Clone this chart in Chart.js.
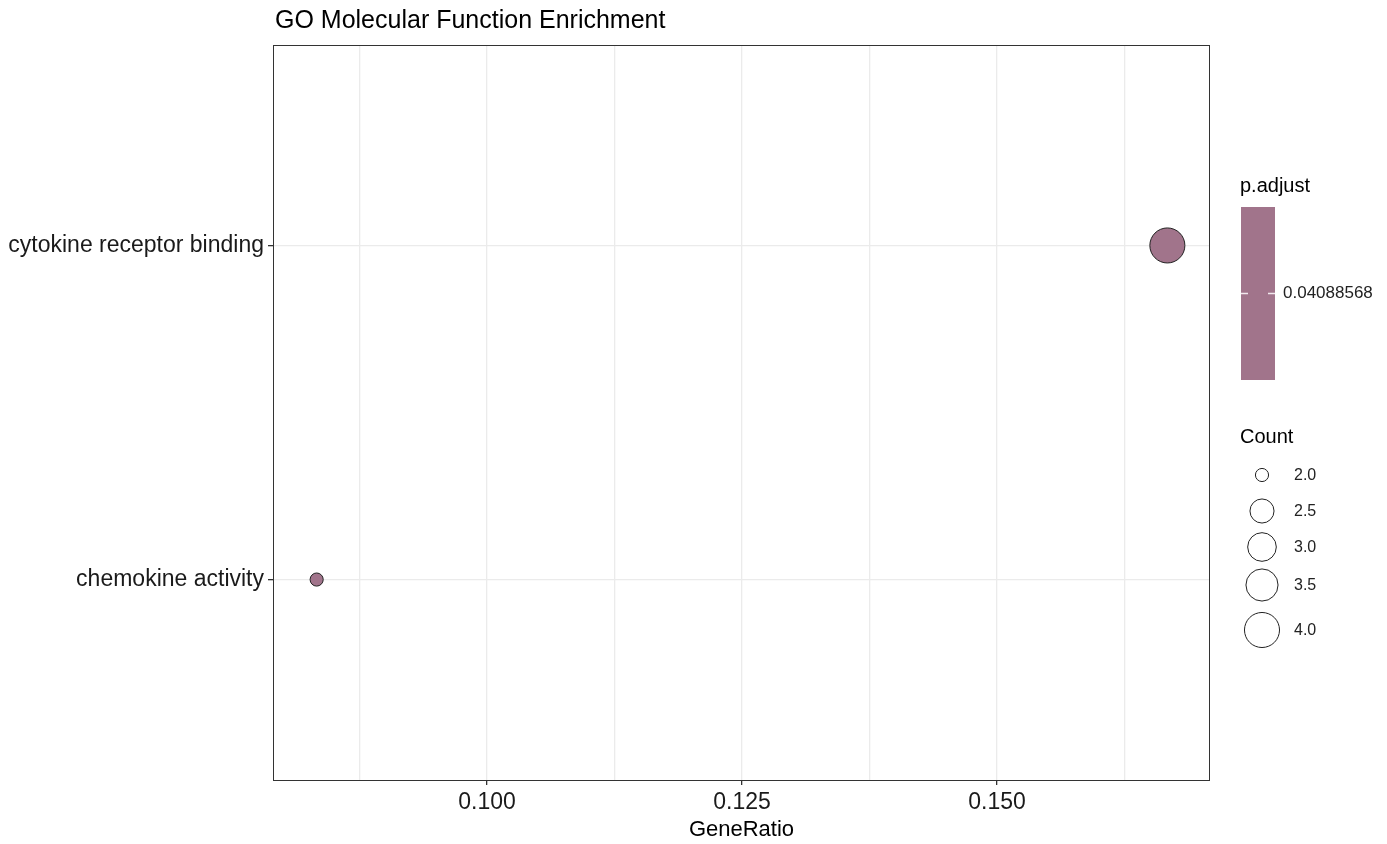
<!DOCTYPE html>
<html>
<head>
<meta charset="utf-8">
<script src="https://cdn.jsdelivr.net/npm/chart.js@4/dist/chart.umd.min.js"></script>
<style>
  html, body { margin: 0; padding: 0; background: #fff; }
  #wrap { width: 1387px; height: 844px; }
</style>
</head>
<body>
<div id="wrap"><canvas id="dotplot"></canvas></div>
<script>
// data
const categories = ['chemokine activity', 'cytokine receptor binding'];
const geneRatio = [0.0833, 0.1667];
const counts = [2, 4];
const pAdjust = [0.04088568, 0.04088568];
const xTicks = [0.100, 0.125, 0.150];
const xMinorTicks = [0.0875, 0.1125, 0.1375, 0.1625];
const countBreaks = [2.0, 2.5, 3.0, 3.5, 4.0];
const pAdjustBreaks = [0.04088568];

const dotColor = '#A1748B';
const FONT = '"Liberation Sans", Arial, sans-serif';

// ggplot-like area scale for point size
function radiusFor(c) {
  const lo = Math.min(...countBreaks), hi = Math.max(...countBreaks);
  return 2.19 * (3 + 5 * Math.sqrt((c - lo) / (hi - lo)));
}

const points = categories.map((c, i) => ({ x: geneRatio[i], y: i }));

// title, panel border and the two legends
const extras = {
  id: 'extras',
  afterDraw(chart) {
    const ctx = chart.ctx;
    const a = chart.chartArea;
    ctx.save();
    ctx.strokeStyle = '#333333';
    ctx.lineWidth = 1;
    ctx.strokeRect(a.left + 0.5, a.top + 0.5, a.right - a.left - 1, a.bottom - a.top);

    ctx.fillStyle = '#000';
    ctx.font = '25px ' + FONT;
    ctx.textBaseline = 'middle';
    ctx.textAlign = 'left';
    ctx.fillText('GO Molecular Function Enrichment', 275, 21);

    // p.adjust colour bar
    ctx.font = '20px ' + FONT;
    ctx.fillText('p.adjust', 1240, 186);
    ctx.fillStyle = dotColor;
    ctx.fillRect(1241, 207, 34, 173);
    ctx.strokeStyle = '#f2e8ee';
    ctx.lineWidth = 1.5;
    pAdjustBreaks.forEach(v => {
      const y = 293.5;
      ctx.beginPath();
      ctx.moveTo(1241, y); ctx.lineTo(1248, y);
      ctx.moveTo(1268, y); ctx.lineTo(1275, y);
      ctx.stroke();
      ctx.fillStyle = '#222';
      ctx.font = '17px ' + FONT;
      ctx.fillText(String(v), 1283, y);
    });

    // Count size legend
    ctx.fillStyle = '#000';
    ctx.font = '20px ' + FONT;
    ctx.fillText('Count', 1240, 437);
    const rowY = [475, 511, 547, 585, 630];
    ctx.strokeStyle = '#222';
    ctx.lineWidth = 1;
    countBreaks.forEach((c, i) => {
      ctx.beginPath();
      ctx.arc(1262, rowY[i], radiusFor(c), 0, Math.PI * 2);
      ctx.stroke();
      ctx.fillStyle = '#222';
      ctx.font = '16px ' + FONT;
      ctx.fillText(c.toFixed(1), 1294, rowY[i] + 1);
    });
    ctx.restore();
  }
};

new Chart(document.getElementById('dotplot'), {
  type: 'scatter',
  data: {
    datasets: [{
      data: points,
      backgroundColor: dotColor,
      borderColor: '#222',
      borderWidth: 1,
      pointRadius: ctx => radiusFor(counts[ctx.dataIndex]),
      pointHoverRadius: ctx => radiusFor(counts[ctx.dataIndex])
    }]
  },
  options: {
    responsive: true,
    maintainAspectRatio: false,
    animation: false,
    layout: { padding: { top: 45, right: 177, left: 0, bottom: 0 } },
    plugins: { legend: { display: false }, tooltip: { enabled: false } },
    scales: {
      x: {
        type: 'linear',
        min: 0.07902,
        max: 0.17088,
        afterBuildTicks: s => {
          s.ticks = xTicks.concat(xMinorTicks).sort((a, b) => a - b).map(v => ({ value: v }));
        },
        afterFit: s => { s.height = 64; },
        border: { display: false },
        grid: {
          color: '#EBEBEB',
          lineWidth: 1.3,
          tickLength: 5,
          tickColor: c => xTicks.some(v => Math.abs(v - c.tick.value) < 1e-6) ? '#333' : 'rgba(0,0,0,0)'
        },
        ticks: {
          autoSkip: false,
          maxRotation: 0,
          padding: 4,
          color: '#1a1a1a',
          font: { family: FONT, size: 23 },
          callback: v => xTicks.some(t => Math.abs(t - v) < 1e-6) ? v.toFixed(3) : ''
        },
        title: {
          display: true,
          text: 'GeneRatio',
          color: '#000',
          font: { family: FONT, size: 22 },
          padding: { top: 0, bottom: 1 }
        }
      },
      y: {
        type: 'linear',
        min: -0.6,
        max: 1.6,
        afterBuildTicks: s => { s.ticks = categories.map((c, i) => ({ value: i })); },
        afterFit: s => { s.width = 273; },
        border: { display: false },
        grid: { color: '#EBEBEB', lineWidth: 1.3, tickLength: 5, tickColor: '#333' },
        ticks: {
          padding: 4,
          color: '#1a1a1a',
          font: { family: FONT, size: 23 },
          callback: v => categories[v] || ''
        }
      }
    }
  },
  plugins: [extras]
});
</script>
</body>
</html>
